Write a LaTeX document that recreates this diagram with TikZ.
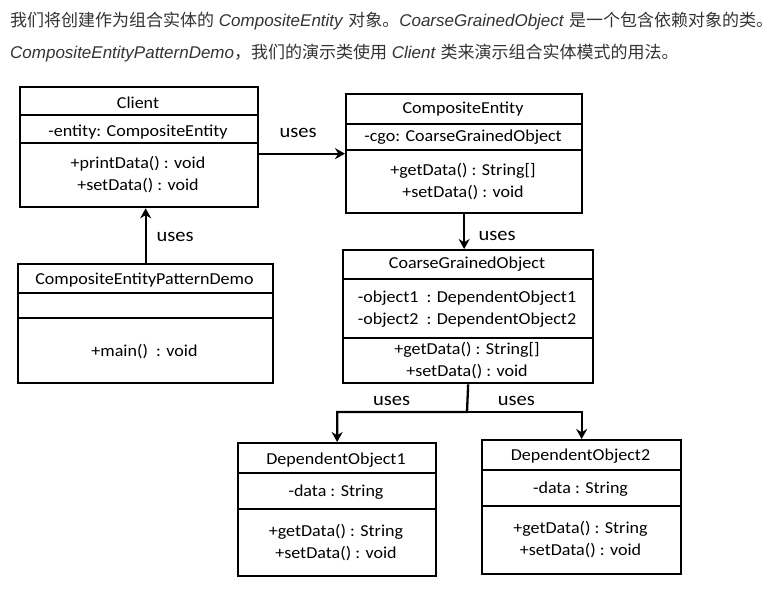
\documentclass[tikz,border=0pt]{standalone}
\usepackage{fontspec}
\usetikzlibrary{arrows.meta}
\setmainfont{Liberation Sans}
\newfontfamily\cjk{Noto Sans CJK SC}
\newfontfamily\umlfont{Carlito}[FakeStretch=1.08]
\definecolor{umlline}{RGB}{0, 0, 0}
\definecolor{introtext}{RGB}{51, 51, 51}

\begin{document}
\begin{tikzpicture}[
    x=1pt, y=-1pt,
    cls/.style={draw=umlline, line width=2.3pt,
                inner sep=0pt, anchor=north west},
    divline/.style={draw=umlline, line width=1.9pt},
    txt/.style={font=\umlfont\fontsize{16.7}{22}\selectfont,
                align=center, inner sep=0pt},
    usesarr/.style={-{Stealth[length=10pt, width=11pt]},
                    line width=2.3pt, color=umlline},
    uselab/.style={font=\umlfont\fontsize{19}{22}\selectfont,
                   inner sep=0pt},
    intro/.style={font=\fontsize{17}{20}\selectfont,
                  color=introtext, anchor=west, inner sep=0pt},
]
\useasboundingbox (0,0) rectangle (775,589);

% -- Intro text -------------------------------
\node[intro] (intro1) at (10,21)
    {{\cjk 我们将创建作为组合实体的} \textit{CompositeEntity}
     {\cjk 对象。}\textit{CoarseGrainedObject}
     {\cjk 是一个包含依赖对象的类。}};
\node[intro] (intro2) at (10,53)
    {\textit{CompositeEntityPatternDemo}{\cjk ，我们的演示类使用}
     \textit{Client} {\cjk 类来演示组合实体模式的用法。}};

% -- Class boxes ------------------------------
\node[cls, minimum width=238pt, minimum height=120pt] (client) at (19,86) {};
\node[cls, minimum width=255pt, minimum height=119pt] (demo)   at (17,263) {};
\node[cls, minimum width=236pt, minimum height=119pt] (entity) at (345,93) {};
\node[cls, minimum width=250pt, minimum height=133pt] (cgo)    at (342,249) {};
\node[cls, minimum width=198pt, minimum height=133pt] (dep1)   at (237,442) {};
\node[cls, minimum width=199pt, minimum height=134pt] (dep2)   at (481,439) {};

% -- Compartment lines ------------------------
\draw[divline] (client.west |- 0,115) -- (client.east |- 0,115);
\draw[divline] (client.west |- 0,143) -- (client.east |- 0,143);
\draw[divline] (demo.west |- 0,293) -- (demo.east |- 0,293);
\draw[divline] (demo.west |- 0,318) -- (demo.east |- 0,318);
\draw[divline] (entity.west |- 0,124) -- (entity.east |- 0,124);
\draw[divline] (entity.west |- 0,150) -- (entity.east |- 0,150);
\draw[divline] (cgo.west |- 0,279) -- (cgo.east |- 0,279);
\draw[divline] (cgo.west |- 0,338) -- (cgo.east |- 0,338);
\draw[divline] (dep1.west |- 0,473) -- (dep1.east |- 0,473);
\draw[divline] (dep1.west |- 0,509) -- (dep1.east |- 0,509);
\draw[divline] (dep2.west |- 0,470) -- (dep2.east |- 0,470);
\draw[divline] (dep2.west |- 0,506) -- (dep2.east |- 0,506);

% -- Class texts ------------------------------
\node[txt] (clientname) at (138,103) {Client};
\node[txt] (clientattr) at (138,132) {-entity: CompositeEntity};
\node[txt] (clientops)  at (138,175) {+printData() : void\\+setData() : void};

\node[txt] (demoname) at (144.5,280) {CompositeEntityPatternDemo};
\node[txt] (demoops)  at (144.5,352) {+main()\ \ : void};

\node[txt] (entityname) at (463,109) {CompositeEntity};
\node[txt] (entityattr) at (463,137) {-cgo: CoarseGrainedObject};
\node[txt] (entityops)  at (463,182) {+getData() : String[]\\+setData() : void};

\node[txt] (cgoname)  at (467,264) {CoarseGrainedObject};
\node[txt] (cgoattr)  at (467,309)
    {-object1\ \ : DependentObject1\\-object2\ \ : DependentObject2};
\node[txt] (cgoops)   at (467,361) {+getData() : String[]\\+setData() : void};

\node[txt] (dep1name) at (336,460) {DependentObject1};
\node[txt] (dep1attr) at (336,492) {-data : String};
\node[txt] (dep1ops)  at (336,543) {+getData() : String\\+setData() : void};

\node[txt] (dep2name) at (580.5,456) {DependentObject2};
\node[txt] (dep2attr) at (580.5,489) {-data : String};
\node[txt] (dep2ops)  at (580.5,540) {+getData() : String\\+setData() : void};

% -- Uses connectors --------------------------
\draw[usesarr] (demo.north) -- (demo.north |- client.south)
    node[uselab, midway, xshift=29.5pt, yshift=-1.5pt] (uses1) {uses};
\draw[usesarr] (entity.west -| client.east) -- (entity.west)
    node[uselab, midway, xshift=-4pt, yshift=20.5pt] (uses2) {uses};
\draw[usesarr] (entity.south) -- (cgo.north -| entity.south)
    node[uselab, midway, xshift=33pt, yshift=-4.5pt] (uses3) {uses};

\coordinate (fork) at (467,412);
\draw[usesarr] (cgo.south) -- (fork) -|
    node[uselab, pos=0.25, xshift=-10.5pt, yshift=11pt] (uses4) {uses}
    (dep1.north);
\draw[usesarr] (fork) -|
    node[uselab, pos=0.25, xshift=-8pt, yshift=11pt] (uses5) {uses}
    (dep2.north);

\end{tikzpicture}
\end{document}
